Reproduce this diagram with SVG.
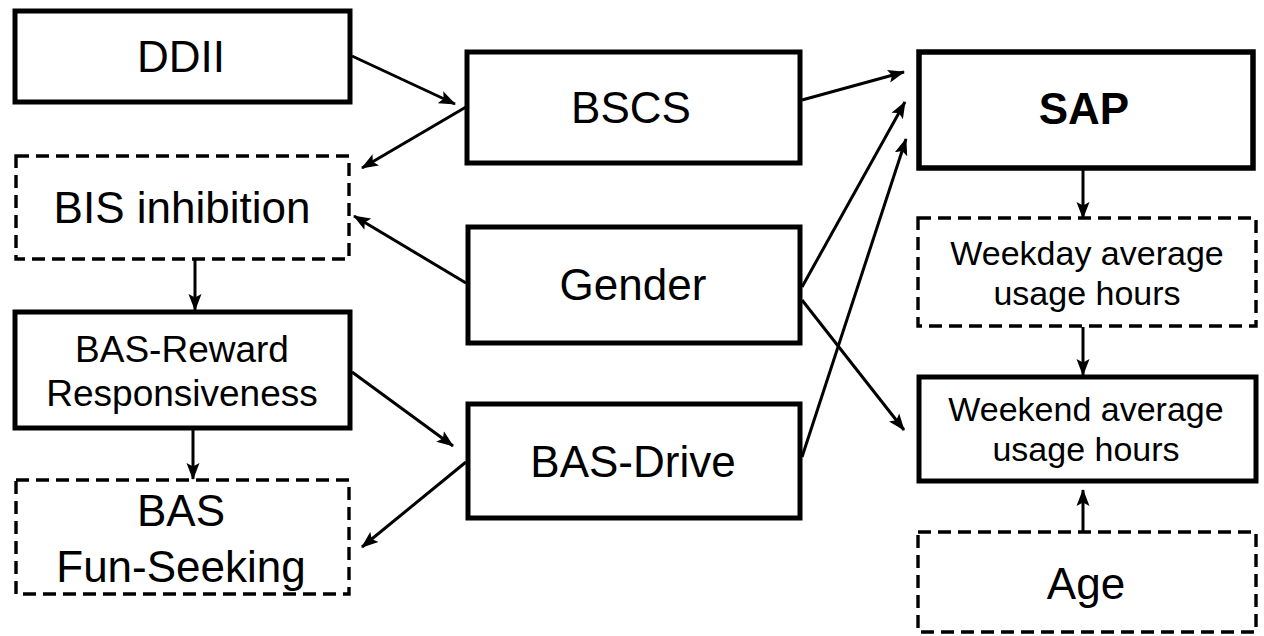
<svg xmlns="http://www.w3.org/2000/svg" width="1264" height="636" viewBox="0 0 1264 636">
  <style>
    .box { fill: #fff; stroke: #000; stroke-width: 5; }
    .dash { fill: #fff; stroke: #000; stroke-width: 3.4; stroke-dasharray: 13 7; }
    .lbl { font-family: "Liberation Sans", Arial, sans-serif; fill: #000; text-anchor: middle; }
    .big { font-size: 44px; }
    .mid { font-size: 37px; }
    .sm { font-size: 34px; }
    .bold { font-weight: bold; }
    .edge { stroke: #000; stroke-width: 3; fill: none; marker-end: url(#arrow); }
  </style>
  <defs>
    <marker id="arrow" markerUnits="userSpaceOnUse" markerWidth="18" markerHeight="14" refX="16" refY="7" orient="auto">
      <path d="M0,0.5 L17,7 L0,13.5 L3.5,7 z" fill="#000"/>
    </marker>
  </defs>
  <rect width="1264" height="636" fill="#fff"/>

  <!-- arrows between nodes -->
  <g id="connectors">
    <line class="edge" x1="352" y1="56" x2="455" y2="104"/>
    <line class="edge" x1="466" y1="107" x2="362" y2="168"/>
    <line class="edge" x1="466" y1="283" x2="354" y2="216"/>
    <line class="edge" x1="195" y1="260" x2="195" y2="310"/>
    <line class="edge" x1="193" y1="430" x2="193" y2="479"/>
    <line class="edge" x1="352" y1="372" x2="453" y2="446"/>
    <line class="edge" x1="466" y1="462" x2="362" y2="547"/>
    <line class="edge" x1="802" y1="100" x2="904" y2="72"/>
    <line class="edge" x1="802" y1="287" x2="905" y2="102"/>
    <line class="edge" x1="802" y1="457" x2="906" y2="139"/>
    <line class="edge" x1="802" y1="300" x2="904" y2="430"/>
    <line class="edge" x1="1083" y1="170" x2="1083" y2="218"/>
    <line class="edge" x1="1083" y1="327" x2="1083" y2="375"/>
    <line class="edge" x1="1083" y1="531" x2="1083" y2="490"/>
  </g>

  <g id="ddii">
    <rect class="box" x="15" y="11" width="335" height="91"/>
    <text class="lbl big" x="181" y="72">DDII</text>
  </g>
  <g id="bis-inhibition">
    <rect class="dash" x="16" y="156" width="333" height="103"/>
    <text class="lbl big" x="182" y="223">BIS inhibition</text>
  </g>
  <g id="bas-reward">
    <rect class="box" x="15" y="312" width="335" height="116"/>
    <text class="lbl mid" x="182" y="362">BAS-Reward</text>
    <text class="lbl mid" x="182" y="406">Responsiveness</text>
  </g>
  <g id="bas-fun">
    <rect class="dash" x="16" y="480" width="333" height="114"/>
    <text class="lbl big" x="181" y="526">BAS</text>
    <text class="lbl big" x="181" y="582">Fun-Seeking</text>
  </g>
  <g id="bscs">
    <rect class="box" x="467" y="52" width="333" height="111"/>
    <text class="lbl big" x="631" y="123">BSCS</text>
  </g>
  <g id="gender">
    <rect class="box" x="468" y="227" width="332" height="116"/>
    <text class="lbl big" x="633" y="300">Gender</text>
  </g>
  <g id="bas-drive">
    <rect class="box" x="468" y="404" width="332" height="114"/>
    <text class="lbl big" x="633" y="477">BAS-Drive</text>
  </g>
  <g id="sap">
    <rect class="box" x="919" y="52" width="334" height="116" style="stroke-width:5.5"/>
    <text class="lbl big bold" x="1084" y="124">SAP</text>
  </g>
  <g id="weekday">
    <rect class="dash" x="918" y="218" width="338" height="108"/>
    <text class="lbl sm" x="1087" y="265">Weekday average</text>
    <text class="lbl sm" x="1087" y="305">usage hours</text>
  </g>
  <g id="weekend">
    <rect class="box" x="919" y="377" width="337" height="104"/>
    <text class="lbl sm" x="1086" y="421">Weekend average</text>
    <text class="lbl sm" x="1086" y="461">usage hours</text>
  </g>
  <g id="age">
    <rect class="dash" x="918" y="532" width="338" height="100"/>
    <text class="lbl big" x="1086" y="599">Age</text>
  </g>
</svg>
